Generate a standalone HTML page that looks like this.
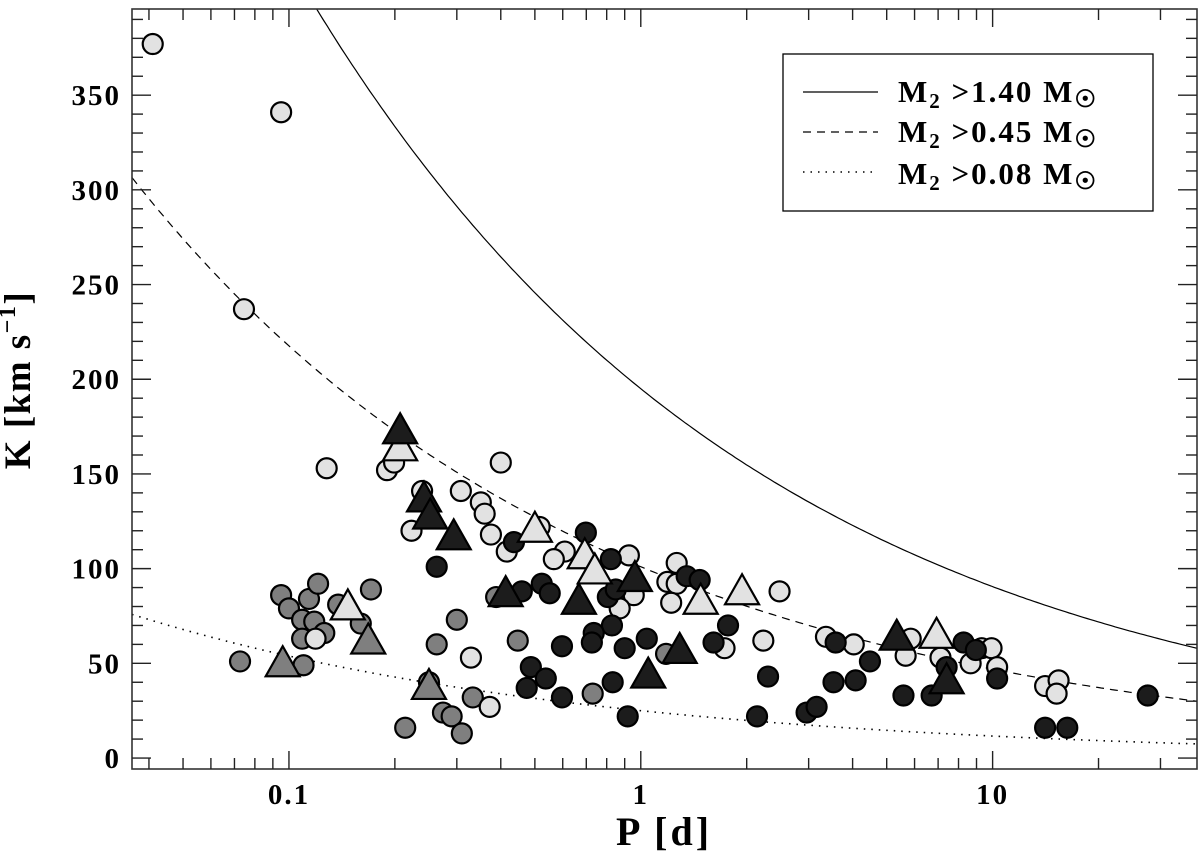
<!DOCTYPE html>
<html><head><meta charset="utf-8"><style>
html,body{margin:0;padding:0;background:#fff;}
svg{display:block;font-family:"Liberation Serif","DejaVu Serif",serif;font-weight:bold;}
</style></head><body>
<svg id="chart" width="1200" height="858" viewBox="0 0 1200 858" xmlns="http://www.w3.org/2000/svg">
<g id="curves"></g>
<g id="marks"></g>
<g id="axes"></g>
<text x="30" y="380" font-size="37" letter-spacing="1.5" text-anchor="middle" transform="rotate(-90 30 380)">K [km s<tspan font-size="24" dy="-15">−1</tspan><tspan dy="15">]</tspan></text>
<text x="664" y="845" font-size="40" letter-spacing="3" text-anchor="middle">P [d]</text>
<g>
<rect x="783" y="54" width="370" height="157" fill="#fff" stroke="#000" stroke-width="1.3"/>
<line x1="803" y1="92" x2="878" y2="92" stroke="#000" stroke-width="1.2"/>
<line x1="803" y1="132" x2="878" y2="132" stroke="#000" stroke-width="1.2" stroke-dasharray="8,6"/>
<line x1="803" y1="172" x2="878" y2="172" stroke="#000" stroke-width="1.5" stroke-dasharray="1.5,6"/>
<text x="898" y="102" font-size="31" letter-spacing="2">M<tspan font-size="21" dy="6">2</tspan><tspan dy="-6"> &gt;1.40 M</tspan><tspan font-size="24" dy="5">☉</tspan></text>
<text x="898" y="142" font-size="31" letter-spacing="2">M<tspan font-size="21" dy="6">2</tspan><tspan dy="-6"> &gt;0.45 M</tspan><tspan font-size="24" dy="5">☉</tspan></text>
<text x="898" y="184" font-size="31" letter-spacing="2">M<tspan font-size="21" dy="6">2</tspan><tspan dy="-6"> &gt;0.08 M</tspan><tspan font-size="24" dy="5">☉</tspan></text>
</g>
</svg>
<script>
// data
const curveNames = ["1.40", "0.45", "0.08"];
const curveCoef = [195, 101, 25];
const curveDash = ["", "8,6", "1.5,6"];
const lightCircP = [0.041,0.095,0.0745,0.128,0.19,0.199,0.239,0.308,0.351,0.36,0.375,0.416,0.223,0.40,0.119,0.329,0.372,0.516,0.608,0.566,0.925,0.955,0.871,1.265,1.19,1.265,1.22,2.48,2.23,1.73,3.36,4.03,5.66,5.85,7.11,8.66,9.31,9.93,10.3,14.1,15.4,15.2];
const lightCircK = [377,341,237,153,152,156,141,141,135,129,118,109,120,156,63,53,27,122,109,105,107,86,79,103,93,92,82,88,62,58,64,60,54,63,53,50,58,58,48,38,41,34];
const grayCircP = [0.0726,0.095,0.1,0.114,0.121,0.109,0.118,0.109,0.126,0.138,0.16,0.171,0.11,0.30,0.263,0.25,0.333,0.274,0.29,0.214,0.31,0.447,0.388,0.73,1.18];
const grayCircK = [51,86,79,84,92,73,72,63,66,81,71,89,49,73,60,40,32,24,22,16,13,62,85,34,55];
const darkCircP = [0.698,0.436,0.459,0.523,0.551,0.822,0.806,0.849,0.828,0.735,0.726,0.9,0.597,1.04,1.35,1.47,1.77,1.61,0.487,0.537,0.474,0.597,0.832,0.918,2.3,2.14,2.96,3.16,3.53,3.58,4.48,4.08,5.58,6.71,7.4,8.27,8.96,10.3,14.1,16.3,27.6,0.263];
const darkCircK = [119,114,88,92,87,105,85,89,70,66,61,58,59,63,96,94,70,61,48,42,37,32,40,22,43,22,24,27,40,61,51,41,33,33,48,61,57,42,16,16,33,101];
const lightTriP = [0.207,0.147,0.5,0.693,0.74,1.48,1.94,6.93];
const lightTriK = [163,79,120,106,98,82,87,64];
const darkTriP = [0.207,0.242,0.252,0.294,0.413,0.667,0.962,1.29,1.05,5.34,7.4];
const darkTriK = [172,136,127,116,86,82,94,56,43,63,40];
const grayTriP = [0.096,0.168,0.25];
const grayTriK = [49,61,37];
const yTicks = [0,50,100,150,200,250,300,350];
const xTickLabels = ["0.1","1","10"];
const xTickVals = [0.1,1,10];

const NS = "http://www.w3.org/2000/svg";
const L = 132, R = 1197, T = 9, B = 769;
const xMin = Math.log10(0.0358), xMax = Math.log10(38.1);
const kMin = -5.8, kMax = 395.5;
function X(p){ return L + (Math.log10(p) - xMin) / (xMax - xMin) * (R - L); }
function Y(k){ return B - (k - kMin) / (kMax - kMin) * (B - T); }
function mk(tag, attrs, parent){ const e = document.createElementNS(NS, tag); for (const a in attrs) e.setAttribute(a, attrs[a]); parent.appendChild(e); return e; }

const defs = mk("defs", {}, document.getElementById("chart"));
const cp = mk("clipPath", {id: "plotclip"}, defs);
mk("rect", {x: L, y: T, width: R - L, height: B - T}, cp);

const cg = document.getElementById("curves");
cg.setAttribute("clip-path", "url(#plotclip)");
curveCoef.forEach((c, i) => {
  let d = "";
  for (let j = 0; j <= 300; j++) {
    const lp = xMin + (xMax - xMin) * j / 300;
    const p = Math.pow(10, lp);
    const k = c * Math.pow(p, -1/3);
    d += (j ? "L" : "M") + X(p).toFixed(1) + " " + Y(k).toFixed(1);
  }
  const path = mk("path", {d: d, fill: "none", stroke: "#000", "stroke-width": i === 2 ? 1.6 : 1.2, "stroke-dasharray": curveDash[i]}, cg);
  
  
});

const mg = document.getElementById("marks");
function circles(P, K, fill, name){
  P.forEach((p, i) => {
    const c = mk("circle", {cx: X(p), cy: Y(K[i]), r: 10, fill: fill, stroke: "#000", "stroke-width": 2.2}, mg);
    
    
  });
}
function tris(P, K, fill, name){
  P.forEach((p, i) => {
    const x = X(p), y = Y(K[i]);
    const pts = [[x, y - 19], [x - 17, y + 11], [x + 17, y + 11]].map(q => q.join(",")).join(" ");
    const t = mk("polygon", {points: pts, fill: fill, stroke: "#000", "stroke-width": 2.2, "stroke-linejoin": "miter"}, mg);
    
    
  });
}
circles(grayCircP, grayCircK, "#7f7f7f", "gray-circle-point");
circles(lightCircP, lightCircK, "#e2e2e2", "light-circle-point");
circles(darkCircP, darkCircK, "#1c1c1c", "dark-circle-point");
tris(grayTriP, grayTriK, "#7f7f7f", "gray-triangle-point");
tris(lightTriP, lightTriK, "#e2e2e2", "light-triangle-point");
tris(darkTriP, darkTriK, "#1c1c1c", "dark-triangle-point");

const ag = document.getElementById("axes");
const frame = mk("rect", {x: L, y: T, width: R - L, height: B - T, fill: "none", stroke: "#333", "stroke-width": 1.6}, ag);


for (let k = 0; k <= 390; k += 10) {
  const y = Y(k), major = k % 50 === 0, len = major ? 19 : 11;
  mk("line", {x1: L, y1: y, x2: L + len, y2: y, stroke: "#222", "stroke-width": 1.4}, ag);
  mk("line", {x1: R, y1: y, x2: R - len, y2: y, stroke: "#222", "stroke-width": 1.4}, ag);
}
yTicks.forEach(v => {
  const t = mk("text", {x: 121, y: Y(v) + 10, "font-size": 29, "letter-spacing": 2, "text-anchor": "end"}, ag);
  t.textContent = v;
  
  
});
for (let dec = -2; dec <= 1; dec++) {
  for (let m = 1; m <= 9; m++) {
    const p = m * Math.pow(10, dec);
    if (p < 0.0358 || p > 38.1) continue;
    const x = X(p), len = m === 1 ? 18 : 11;
    mk("line", {x1: x, y1: B, x2: x, y2: B - len, stroke: "#222", "stroke-width": 1.4}, ag);
    mk("line", {x1: x, y1: T, x2: x, y2: T + len, stroke: "#222", "stroke-width": 1.4}, ag);
  }
}
xTickVals.forEach((v, i) => {
  const t = mk("text", {x: X(v), y: 804, "font-size": 29, "letter-spacing": 2, "text-anchor": "middle"}, ag);
  t.textContent = xTickLabels[i];
  
  
});
</script>
</body></html>
